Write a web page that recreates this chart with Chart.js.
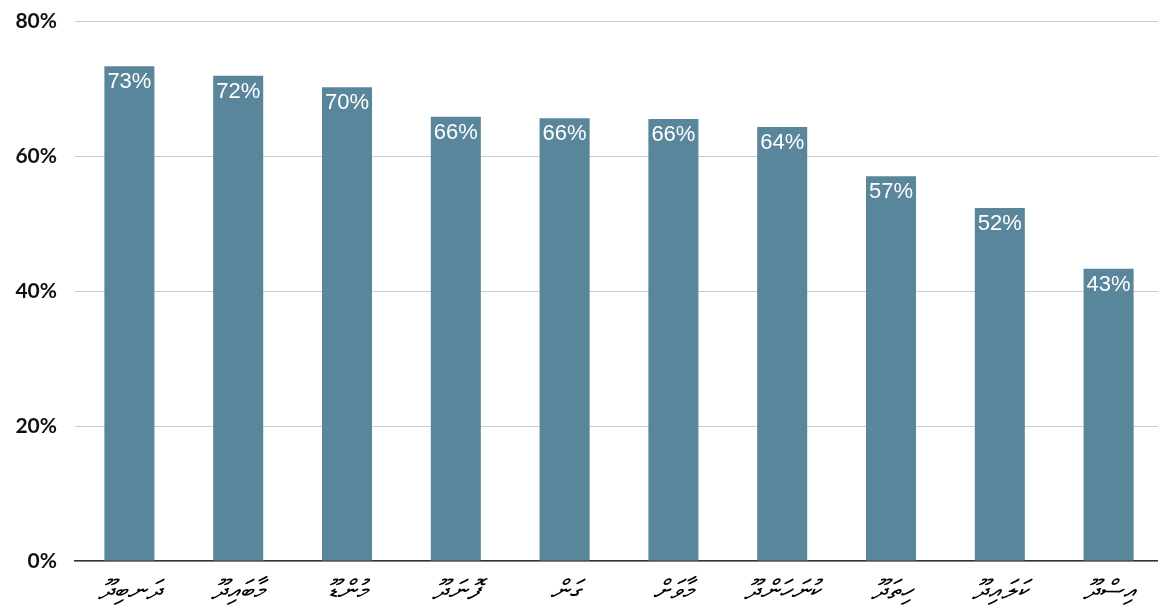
<!DOCTYPE html>
<html>
<head>
<meta charset="utf-8">
<script src="https://cdn.jsdelivr.net/npm/chart.js@4"></script>
<style>
  html, body { margin: 0; padding: 0; background: #fff; overflow: hidden; }
  #wrap { width: 1158px; height: 615px; overflow: hidden; }
</style>
</head>
<body>
<div id="wrap"><canvas id="islands-chart" width="1163" height="615"></canvas></div>
<script>
// ލާމު އަތޮޅުގެ ރަށްތައް
const islands = ["ދަނބިދޫ", "މާބައިދޫ", "މުންޑޫ", "ފޮނަދޫ", "ގަން", "މާވަށް", "ކުނަހަންދޫ", "ހިތަދޫ", "ކަލައިދޫ", "އިސްދޫ"];
const shares = [73.3, 71.9, 70.2, 65.8, 65.6, 65.5, 64.3, 57.0, 52.3, 43.3];
const yTicks = [0, 20, 40, 60, 80];

const barColor = '#5a869b';

// bar value text inside the top of each bar
const barText = {
    id: 'barText',
    afterDatasetsDraw(chart) {
        const ctx = chart.ctx;
        const meta = chart.getDatasetMeta(0);
        ctx.save();
        ctx.fillStyle = '#ffffff';
        ctx.font = '22px "Liberation Sans", Arial, sans-serif';
        ctx.textAlign = 'center';
        ctx.textBaseline = 'top';
        meta.data.forEach(function (bar, i) {
            ctx.fillText(Math.round(shares[i]) + '%', bar.x, bar.y + 5);
        });
        ctx.restore();
    }
};

window.onload = function () {
    let context = document.querySelector("#islands-chart").getContext('2d');
    new Chart(context, {
        type: 'bar',
        data: {
            labels: islands,
            datasets: [{
                data: shares,
                backgroundColor: barColor,
                barPercentage: 0.46,
                categoryPercentage: 1
            }]
        },
        plugins: [barText],
        options: {
            responsive: false,
            animation: false,
            layout: { padding: { top: 21, right: 0, left: 0, bottom: 0 } },
            plugins: {
                legend: { display: false },
                tooltip: { enabled: false }
            },
            scales: {
                x: {
                    grid: { display: false, drawTicks: false },
                    border: { display: true, color: '#333333', width: 1.5 },
                    ticks: {
                        color: '#000000',
                        padding: 14,
                        maxRotation: 0,
                        font: { family: '"Noto Sans", "DejaVu Sans", sans-serif', size: 27, style: 'italic' }
                    },
                    afterFit: function (axis) {
                        axis.height = 54;
                        axis.paddingLeft = 0;
                        axis.paddingRight = 0;
                    }
                },
                y: {
                    min: 0,
                    max: 80,
                    afterBuildTicks: function (axis) {
                        axis.ticks = yTicks.map(function (v) { return { value: v }; });
                    },
                    grid: { color: '#cccccc', lineWidth: 1, drawTicks: false },
                    border: { display: false },
                    ticks: {
                        color: '#111111',
                        padding: 18,
                        font: { family: 'Lato, "Noto Sans", sans-serif', size: 21, weight: 'bold' },
                        callback: function (v) { return v + '%'; }
                    },
                    afterFit: function (axis) {
                        axis.width = 75;
                        axis.paddingTop = 0;
                        axis.paddingBottom = 0;
                    }
                }
            }
        }
    });
}
</script>
</body>
</html>
